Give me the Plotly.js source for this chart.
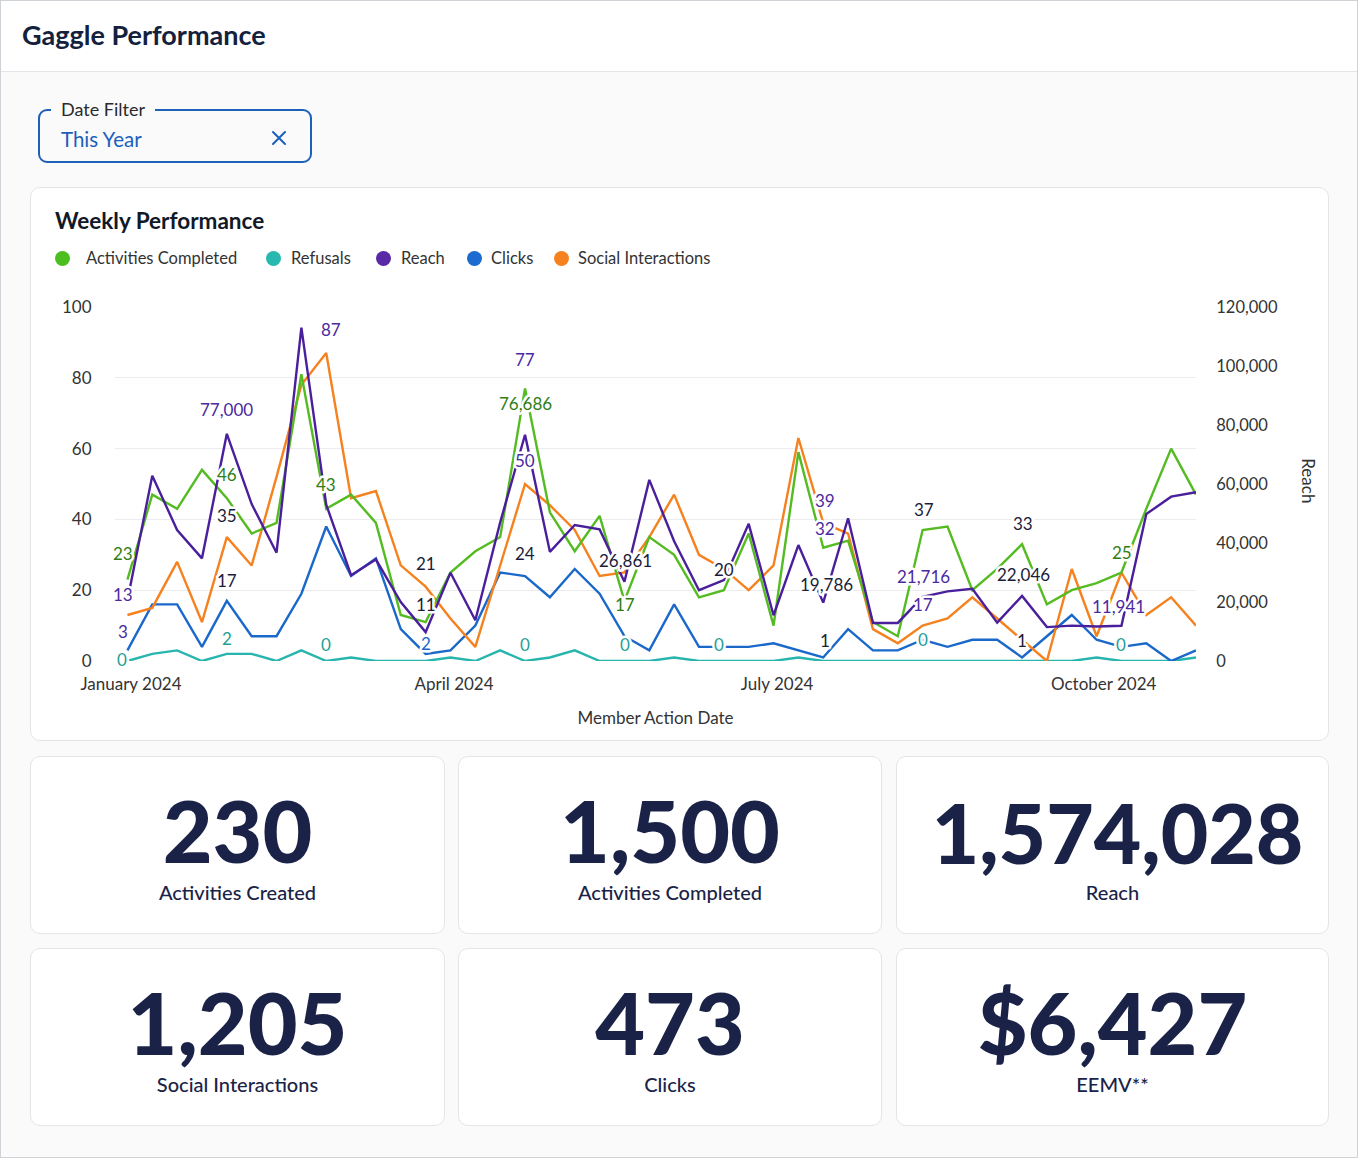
<!DOCTYPE html>
<html>
<head>
<meta charset="utf-8">
<script src="https://cdn.plot.ly/plotly-3.0.1.min.js"></script>
<style>
  html, body { margin: 0; padding: 0; }
  body {
    width: 1358px; height: 1158px; position: relative; overflow: hidden;
    background: #fafafb; font-family: Lato, "Noto Sans", sans-serif; color: #1a2347;
  }
  .frame { position: absolute; left: 0; top: 0; width: 1356px; height: 1156px; border: 1px solid #cfd2d6; pointer-events: none; z-index: 5; }
  .header { position: absolute; left: 0; top: 0; width: 1358px; height: 71px; background: #fff; border-bottom: 1px solid #e3e5e8; }
  .header h1 { position: absolute; left: 22px; top: 19px; margin: 0; font-size: 27px; line-height: 32px; font-weight: 700; color: #14213d; }

  .filter { position: absolute; left: 38px; top: 109px; width: 270px; height: 50px; border: 2px solid #1d60b8; border-radius: 9px; }
  .filter .lbl { position: absolute; left: 11px; top: -12px; padding: 0 10px 0 10px; background: #fafafb; font-size: 18px; line-height: 20px; color: #2a2a2a; }
  .filter .val { position: absolute; left: 21px; top: 16px; font-size: 20.5px; line-height: 24px; color: #1b5fbc; }
  .filter svg { position: absolute; left: 231px; top: 19px; }

  .card { position: absolute; background: #fff; border: 1px solid #e3e5e9; border-radius: 10px; box-sizing: border-box; }
  .chart-card { left: 30px; top: 187px; width: 1299px; height: 554px; }
  .chart-card h2 { position: absolute; left: 24px; top: 19px; margin: 0; font-size: 22.5px; line-height: 28px; font-weight: 700; color: #111827; }
  .legend { position: absolute; left: 0; top: 0; }
  .legend .item { position: absolute; top: 60px; height: 20px; font-size: 16.5px; line-height: 20px; color: #333; white-space: nowrap; }
  .legend .dot { position: absolute; left: 0; top: 3px; width: 15px; height: 15px; border-radius: 50%; }
  .legend .txt { position: absolute; top: 0; }
  #chart { position: absolute; left: 31px; top: 280px; width: 1297px; height: 455px; }

  .kpi .num { position: absolute; left: 0; right: 0; top: 30px; text-align: center; font-size: 86px; line-height: 86px; font-weight: 900; color: #1a2347; }
  .kpi .cap { position: absolute; left: 0; right: 0; top: 123px; text-align: center; font-size: 20px; line-height: 24px; font-weight: 500; color: #1a2347; }

  .annotation-text { paint-order: stroke; stroke: #ffffff; stroke-width: 5px; stroke-linejoin: round; }
</style>
</head>
<body>
<div class="frame"></div>
<div class="header"><h1>Gaggle Performance</h1></div>

<div class="filter">
  <span class="lbl">Date Filter</span>
  <span class="val">This Year</span>
  <svg width="16" height="16" viewBox="0 0 16 16"><path d="M2 2 L14 14 M14 2 L2 14" stroke="#1b5fbc" stroke-width="2" fill="none" stroke-linecap="round"/></svg>
</div>

<div class="card chart-card">
  <h2>Weekly Performance</h2>
  <div class="legend" id="legend"></div>
</div>
<div id="chart"></div>

<div id="kpis"></div>

<script>
// Week starting dates (Member Action Date)
const weeks = [
  '2023-12-31','2024-01-07','2024-01-14','2024-01-21','2024-01-28','2024-02-04','2024-02-11','2024-02-18',
  '2024-02-25','2024-03-03','2024-03-10','2024-03-17','2024-03-24','2024-03-31','2024-04-07','2024-04-14',
  '2024-04-21','2024-04-28','2024-05-05','2024-05-12','2024-05-19','2024-05-26','2024-06-02','2024-06-09',
  '2024-06-16','2024-06-23','2024-06-30','2024-07-07','2024-07-14','2024-07-21','2024-07-28','2024-08-04',
  '2024-08-11','2024-08-18','2024-08-25','2024-09-01','2024-09-08','2024-09-15','2024-09-22','2024-09-29',
  '2024-10-06','2024-10-13','2024-10-20','2024-10-27'
];

// Weekly series (left axis)
const activitiesCompleted = [23,47,43,54,46,36,39,81,43,47,39,13,11,25,31,35,77,42,31,41,17,35,30,18,20,36,10,59,32,34,11,7,37,38,20,26,33,16,20,22,25,43,60,47];
const refusals            = [0,2,3,0,2,2,0,3,0,1,0,0,0,1,0,3,0,1,3,0,0,0,1,0,0,0,0,1,0,0,0,0,0,0,0,0,0,0,0,1,0,0,0,1];
const clicks              = [3,16,16,4,17,7,7,19,38,24,29,9,2,3,10,25,24,18,26,19,7,3,16,4,4,4,5,3,1,9,3,3,6,4,6,6,1,7,13,6,4,5,0,3];
const socialInteractions  = [13,15,28,11,35,27,52,78,87,46,48,27,21,12,4,27,50,44,37,24,25,35,47,30,26,20,27,63,39,36,9,5,10,12,18,12,6,0,26,7,25,13,18,10];
// Weekly reach (right axis)
const reach = [20500,62800,44400,34800,77000,53200,36700,112992,53000,29100,34400,20000,9800,29900,13800,47000,76686,37000,46100,44600,26861,61400,40600,24000,27400,46500,15500,39300,19786,48400,12900,12900,21716,23600,24500,13000,22046,11500,12000,11700,11941,49800,55700,57200];

// Axis ticks
const leftTicks = [0, 20, 40, 60, 80, 100];
const rightTicks = [0, 20000, 40000, 60000, 80000, 100000, 120000];

// Headline figures
const kpiValues = ['230', '1,500', '1,574,028', '1,205', '473', '$6,427'];
const kpiLabels = ['Activities Created', 'Activities Completed', 'Reach', 'Social Interactions', 'Clicks', 'EEMV**'];

const FONT = 'Lato, "Noto Sans", sans-serif';
const COL = {
  green: '#55bb22', teal: '#27b5ad', purple: '#4a1f9c', blue: '#1b68cb', orange: '#f5821f'
};
const LBL = { green: '#2f7d16', teal: '#1f9f97', purple: '#4a2aa0', blue: '#1b68cb', dark: '#1c1d3a' };

const series = {
  green:  { name: 'Activities Completed', y: activitiesCompleted, axis: 'y' },
  teal:   { name: 'Refusals', y: refusals, axis: 'y' },
  purple: { name: 'Reach', y: reach, axis: 'y2' },
  blue:   { name: 'Clicks', y: clicks, axis: 'y' },
  orange: { name: 'Social Interactions', y: socialInteractions, axis: 'y' }
};

// Legend
const legendItems = [
  { key: 'green', left: 24, gap: 31, color: '#4cbf1e' },
  { key: 'teal', left: 235, gap: 25, color: '#27b8b0' },
  { key: 'purple', left: 345, gap: 25, color: '#5a2aa6' },
  { key: 'blue', left: 436, gap: 24, color: '#1c6bd0' },
  { key: 'orange', left: 523, gap: 24, color: '#f6821f' }
];
const legend = document.getElementById('legend');
legendItems.forEach(it => {
  const d = document.createElement('div');
  d.className = 'item';
  d.style.left = it.left + 'px';
  d.innerHTML = '<span class="dot" style="background:' + it.color + '"></span><span class="txt" style="left:' + it.gap + 'px">' + series[it.key].name + '</span>';
  legend.appendChild(d);
});

// KPI cards
const kpiBoxes = [
  [30, 756, 415, 178], [458, 756, 424, 178], [896, 756, 433, 178],
  [30, 948, 415, 178], [458, 948, 424, 178], [896, 948, 433, 178]
];
const kpis = document.getElementById('kpis');
kpiValues.forEach((v, i) => {
  const b = kpiBoxes[i];
  const c = document.createElement('div');
  c.className = 'card kpi';
  c.style.cssText = 'left:' + b[0] + 'px;top:' + b[1] + 'px;width:' + b[2] + 'px;height:' + b[3] + 'px;';
  const sizeStyle = v.length > 7 ? 'font-size:82px;top:32px;padding-left:10px;' : '';
  c.innerHTML = '<div class="num" style="' + sizeStyle + '">' + v + '</div><div class="cap">' + kpiLabels[i] + '</div>';
  kpis.appendChild(c);
});

// Lines
const order = ['teal', 'blue', 'orange', 'green', 'purple'];
const traces = order.map(k => ({
  type: 'scatter', mode: 'lines', name: series[k].name,
  x: weeks, y: series[k].y, yaxis: series[k].axis,
  line: { color: COL[k], width: 2.4 },
  hoverinfo: 'skip'
}));

// Value labels: each one reads its mark's value
const pointLabels = [
  { s: 'green', i: 0, c: 'green', dx: -4, dy: 26 },
  { s: 'orange', i: 0, c: 'purple', dx: -4, dy: 20 },
  { s: 'blue', i: 0, c: 'purple', dx: -4, dy: 19 },
  { s: 'teal', i: 0, c: 'teal', dx: -5, dy: 2 },
  { s: 'purple', i: 4, c: 'purple', dx: 0, dy: 24 },
  { s: 'green', i: 4, c: 'green', dx: 0, dy: 24 },
  { s: 'orange', i: 4, c: 'dark', dx: 0, dy: 22 },
  { s: 'blue', i: 4, c: 'dark', dx: 0, dy: 20 },
  { s: 'teal', i: 4, c: 'teal', dx: 0, dy: 15 },
  { s: 'orange', i: 8, c: 'purple', dx: 5, dy: 24 },
  { s: 'green', i: 8, c: 'green', dx: 0, dy: 24 },
  { s: 'teal', i: 8, c: 'teal', dx: 0, dy: 17 },
  { s: 'orange', i: 12, c: 'dark', dx: 0, dy: 23 },
  { s: 'green', i: 12, c: 'dark', dx: 0, dy: 18 },
  { s: 'blue', i: 12, c: 'blue', dx: 0, dy: 10 },
  { s: 'green', i: 16, c: 'purple', dx: 0, dy: 29 },
  { s: 'purple', i: 16, c: 'green', dx: 0, dy: 31 },
  { s: 'orange', i: 16, c: 'purple', dx: 0, dy: 24 },
  { s: 'blue', i: 16, c: 'dark', dx: 0, dy: 23 },
  { s: 'teal', i: 16, c: 'teal', dx: 0, dy: 17 },
  { s: 'purple', i: 20, c: 'dark', dx: 1, dy: 21 },
  { s: 'green', i: 20, c: 'green', dx: 1, dy: -4 },
  { s: 'teal', i: 20, c: 'teal', dx: 1, dy: 17 },
  { s: 'green', i: 24, c: 'dark', dx: 0, dy: 21 },
  { s: 'teal', i: 24, c: 'teal', dx: -5, dy: 17 },
  { s: 'orange', i: 28, c: 'purple', dx: 2, dy: 22 },
  { s: 'green', i: 28, c: 'purple', dx: 2, dy: 19 },
  { s: 'purple', i: 28, c: 'dark', dx: 3, dy: 18 },
  { s: 'blue', i: 28, c: 'dark', dx: 2, dy: 17 },
  { s: 'green', i: 32, c: 'dark', dx: 1, dy: 21 },
  { s: 'purple', i: 32, c: 'purple', dx: 1, dy: 20 },
  { s: 'teal', i: 32, c: 'teal', dx: 0, dy: 22 },
  { s: 'green', i: 36, c: 'dark', dx: 1, dy: 21 },
  { s: 'purple', i: 36, c: 'dark', dx: 1, dy: 21 },
  { s: 'blue', i: 36, c: 'dark', dx: 0, dy: 17 },
  { s: 'green', i: 40, c: 'green', dx: 1, dy: 20 },
  { s: 'purple', i: 40, c: 'purple', dx: -3, dy: 19 },
  { s: 'teal', i: 40, c: 'teal', dx: 0, dy: 17 }
];

const annotations = pointLabels.map(p => {
  const v = series[p.s].y[p.i];
  return {
    x: weeks[p.i], y: v, xref: 'x', yref: series[p.s].axis,
    text: v.toLocaleString('en-US'), showarrow: false,
    xshift: p.dx, yshift: p.dy,
    font: { family: FONT, size: 17, color: LBL[p.c] }
  };
});
// Week-of-August marker on the left scale
annotations.push({
  x: weeks[32], y: 17, xref: 'x', yref: 'y', text: '17', showarrow: false,
  xshift: 0, yshift: -4, font: { family: FONT, size: 17, color: LBL.purple }
});
// Right axis title
annotations.push({
  x: 1.116, y: 0.508, xref: 'paper', yref: 'paper', text: 'Reach', textangle: 90,
  showarrow: false, font: { family: FONT, size: 17, color: '#333' }
});

const layout = {
  width: 1297, height: 455,
  margin: { l: 84, r: 132, t: 27, b: 74 },
  paper_bgcolor: 'rgba(0,0,0,0)', plot_bgcolor: 'rgba(0,0,0,0)',
  showlegend: false,
  font: { family: FONT, size: 17, color: '#333' },
  xaxis: {
    type: 'date', range: ['2023-12-27 12:00', '2024-10-27'],
    tick0: '2024-01-01', dtick: 'M3', tickformat: '%B %Y',
    showgrid: false, zeroline: false, showline: false,
    ticks: 'outside', ticklen: 8, tickcolor: 'rgba(0,0,0,0)',
    tickfont: { family: FONT, size: 17, color: '#333' },
    title: { text: 'Member Action Date', standoff: 18, font: { family: FONT, size: 17, color: '#333' } }
  },
  yaxis: {
    range: [0, 100], tickvals: leftTicks,
    showgrid: true, gridcolor: '#ececee', gridwidth: 1, zeroline: false, showline: false,
    ticks: 'outside', ticklen: 19, tickcolor: 'rgba(0,0,0,0)',
    tickfont: { family: FONT, size: 17, color: '#333' }
  },
  yaxis2: {
    overlaying: 'y', side: 'right', range: [0, 120000], tickvals: rightTicks, tickformat: ',',
    showgrid: false, zeroline: false, showline: false,
    ticks: 'outside', ticklen: 16, tickcolor: 'rgba(0,0,0,0)',
    tickfont: { family: FONT, size: 16.5, color: '#333' }
  },
  annotations: annotations
};

Plotly.newPlot('chart', traces, layout, { staticPlot: true, displayModeBar: false });
</script>
</body>
</html>
